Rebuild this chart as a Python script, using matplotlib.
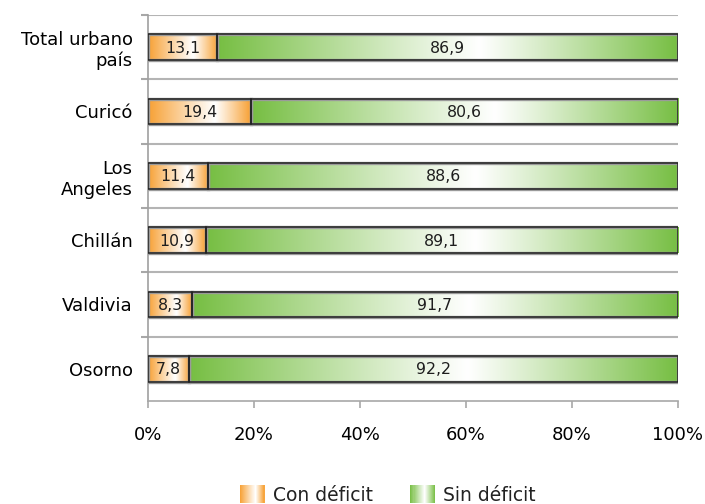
import numpy as np
import matplotlib
matplotlib.use("Agg")
import matplotlib.pyplot as plt
from matplotlib.legend_handler import HandlerBase
from matplotlib.patches import Rectangle
from matplotlib.colors import to_rgb

categories = ["Total urbano\npaís", "Curicó", "Los\nAngeles", "Chillán", "Valdivia", "Osorno"]
con_deficit = [13.1, 19.4, 11.4, 10.9, 8.3, 7.8]
sin_deficit = [86.9, 80.6, 88.6, 89.1, 91.7, 92.2]
series_names = ["Con déficit", "Sin déficit"]
xticks = [0, 20, 40, 60, 80, 100]

ORANGE = "#F7A033"
GREEN = "#76BE42"
PEAKS = {ORANGE: 0.65, GREEN: 0.57}

plt.rcParams["font.family"] = ["DejaVu Sans"]
plt.rcParams["text.color"] = "#222222"


def gradient_colors(color, n=256):
    # edge colour at both ends, fading to white near the middle
    edge = np.array(to_rgb(color))
    p = PEAKS[color]
    t = (np.arange(n) + 0.5) / n
    w = np.where(t < p, (p - t) / p, (t - p) / (1 - p))
    w = np.clip(w, 0, 1) ** 1.05
    return np.ones((n, 3)) * (1 - w[:, None]) + edge * w[:, None]


class GradientHandler(HandlerBase):
    def __init__(self, color):
        super().__init__()
        self.color = color

    def create_artists(self, legend, orig_handle, xdescent, ydescent, width, height, fontsize, trans):
        n = 24
        cols = gradient_colors(self.color, n)
        arts = []
        for i in range(n):
            r = Rectangle((-xdescent + i * width / n, -ydescent), width / n + 0.3, height,
                          facecolor=cols[i], edgecolor="none", transform=trans)
            arts.append(r)
        return arts


fig = plt.figure(figsize=(7.05, 5.04), dpi=100)
ax = fig.add_axes([148 / 705, 1 - 401 / 504, 530 / 705, 386 / 504])

y = np.arange(len(categories))
h = 0.40
for yi, a, b in zip(y, con_deficit, sin_deficit):
    for left, val, col in ((0, a, ORANGE), (a, b, GREEN)):
        img = gradient_colors(col)[None, :, :]
        ax.imshow(img, extent=(left, left + val, yi + h / 2, yi - h / 2),
                  aspect="auto", interpolation="bilinear", zorder=2)
        ax.text(left + val / 2, yi + 0.015, f"{val:.1f}".replace(".", ","), ha="center", va="center",
                fontsize=11.3, color="#1e1e1e", zorder=4)

ax.barh(y, con_deficit, height=h, fill=False, edgecolor="#9a9a9a", linewidth=2.4, zorder=2.5)
ax.barh(y, sin_deficit, left=con_deficit, height=h, fill=False, edgecolor="#9a9a9a", linewidth=2.4, zorder=2.5)
ax.barh(y, con_deficit, height=h, fill=False, edgecolor="#222222", linewidth=1.1, zorder=3)
ax.barh(y, sin_deficit, left=con_deficit, height=h, fill=False, edgecolor="#222222", linewidth=1.1, zorder=3)

ax.set_xlim(0, 100)
ax.set_ylim(len(categories) - 0.5, -0.5)

ax.set_xticks(xticks)
ax.set_xticklabels([f"{v}%" for v in xticks], fontsize=13)
ax.set_yticks(y)
ax.set_yticklabels(categories, fontsize=13, linespacing=1.2)
ax.set_yticks(np.arange(-0.5, len(categories) - 0.5, 1.0), minor=True)

ax.tick_params(axis="y", which="major", length=0, pad=11)
ax.tick_params(axis="y", which="minor", length=5, color="#a8a8a8", width=1.5)
ax.tick_params(axis="x", length=5, color="#a8a8a8", width=1.2, pad=13)
ax.grid(axis="y", which="minor", color="#b4b4b4", linewidth=1.5, zorder=0)
ax.set_axisbelow(True)

for s in ("top", "right"):
    ax.spines[s].set_visible(False)
ax.spines["left"].set_color("#a0a0a0")
ax.spines["bottom"].set_color("#a8a8a8")
ax.spines["left"].set_linewidth(1.2)
ax.spines["bottom"].set_linewidth(1.2)

handles = [Rectangle((0, 0), 1, 1), Rectangle((0, 0), 1, 1)]
fig.legend(handles, series_names, loc="lower center", bbox_to_anchor=(388 / 705, -0.035),
           ncol=2, frameon=False, fontsize=13.5, handlelength=1.3, handleheight=1.1,
           handletextpad=0.45, columnspacing=2.0,
           handler_map={handles[0]: GradientHandler(ORANGE), handles[1]: GradientHandler(GREEN)})

fig.savefig("out.png", dpi=100)
